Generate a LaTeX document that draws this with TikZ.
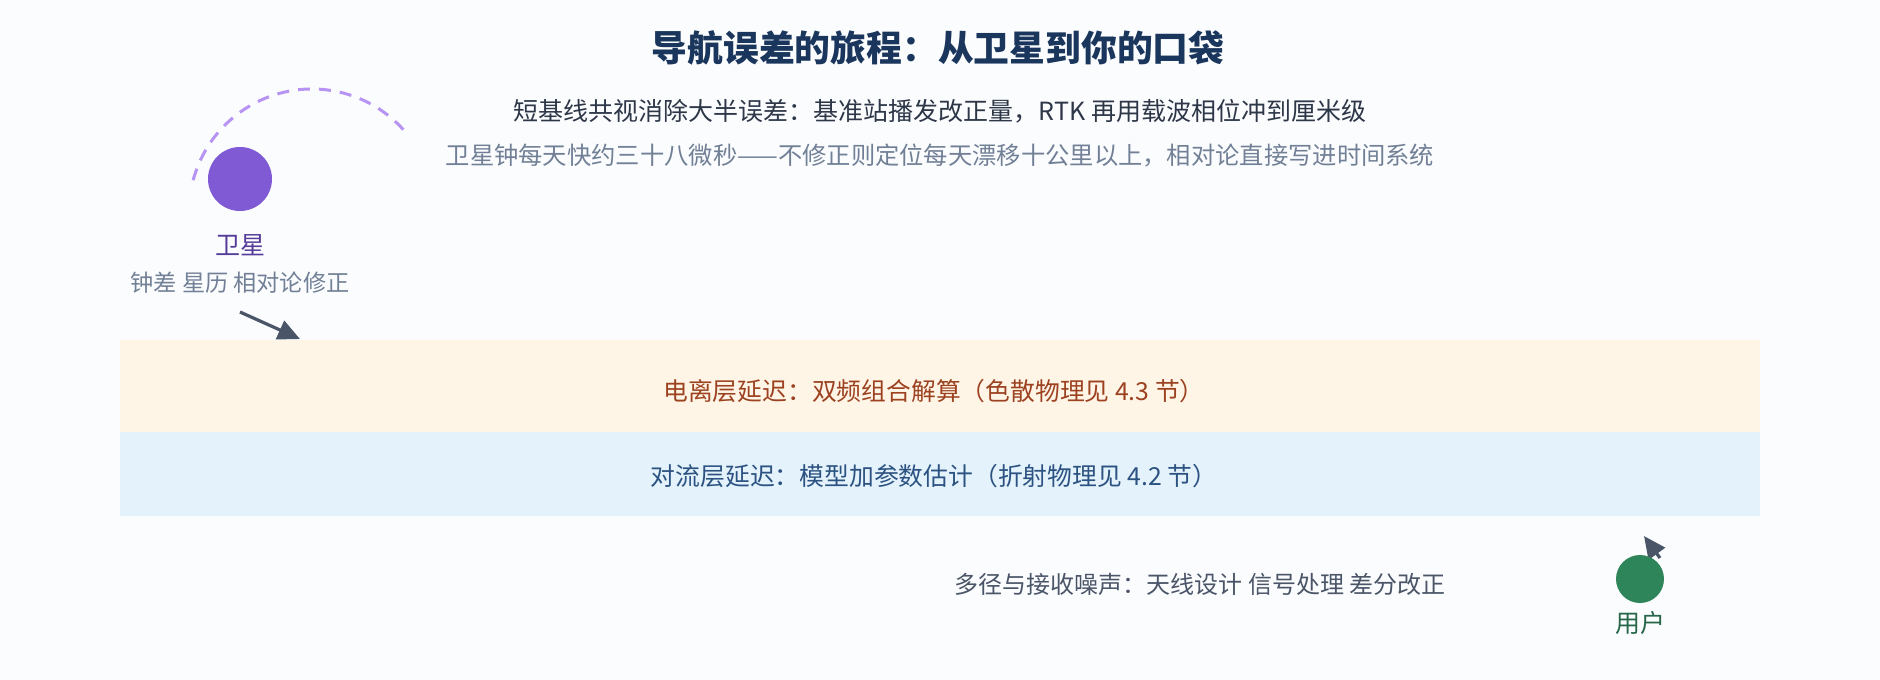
\documentclass[tikz,border=0pt]{standalone}
\usepackage{fontspec}
\setmainfont{Noto Sans CJK SC}
\usetikzlibrary{arrows.meta}
\newcommand{\px}{0.5pt}
\definecolor{bgcol}{HTML}{FBFCFE}
\definecolor{titlecol}{HTML}{1A365D}
\definecolor{darkcol}{HTML}{2D3748}
\definecolor{graycol}{HTML}{718096}
\definecolor{slatecol}{HTML}{4A5568}
\definecolor{satcol}{HTML}{805AD5}
\definecolor{satlabel}{HTML}{553C9A}
\definecolor{orbitcol}{HTML}{B794F4}
\definecolor{ionofill}{HTML}{FFF5E6}
\definecolor{ionotext}{HTML}{9C4221}
\definecolor{tropofill}{HTML}{E3F2FB}
\definecolor{tropotext}{HTML}{2C5282}
\definecolor{usercol}{HTML}{2F855A}
\definecolor{userlabel}{HTML}{276749}

\begin{document}
\begin{tikzpicture}[x=\px, y=-\px,
    txt/.style={inner sep=0pt, font=\fontsize{12}{14}\selectfont},
    band/.style={anchor=north west, inner sep=0pt, draw=none, minimum width=1640*\px},
    dot/.style={circle, inner sep=0pt, draw=none},
    arr/.style={draw=slatecol, line width=1.6pt, -{Triangle[length=11pt,width=10pt]}}]
    % canvas
    \fill[bgcol] (0,0) rectangle (1880,680);
    \useasboundingbox (0,0) rectangle (1880,680);

    % heading
    \node[txt, text=titlecol, font=\fontsize{17.9}{20}\selectfont\bfseries] (title) at (938,48) {导航误差的旅程：从卫星到你的口袋};
    \node[txt, text=darkcol, font=\fontsize{12.5}{15}\selectfont] (note-1) at (940,111) {短基线共视消除大半误差：基准站播发改正量，RTK 再用载波相位冲到厘米级};
    \node[txt, text=graycol, font=\fontsize{12.15}{15}\selectfont] (note-2) at (940,156) {卫星钟每天快约三十八微秒——不修正则定位每天漂移十公里以上，相对论直接写进时间系统};

    % layers
    \node[band, fill=ionofill, minimum height=92*\px] (iono) at (120,340) {};
    \node[band, fill=tropofill, minimum height=84*\px] (tropo) at (120,432) {};
    \node[txt, text=ionotext, font=\fontsize{12.4}{14}\selectfont] (iono-text) at (934,391) {电离层延迟：双频组合解算（色散物理见 4.3 节）};
    \node[txt, text=tropotext, font=\fontsize{12.4}{14}\selectfont] (tropo-text) at (934,476) {对流层延迟：模型加参数估计（折射物理见 4.2 节）};

    % satellite
    \draw[orbitcol, line width=1.5pt, dash pattern=on 6pt off 4.5pt] (312,212) ++(-165:123) arc[start angle=-165, end angle=-42, radius=123];
    \node[dot, fill=satcol, minimum size=64*\px] (sat) at (240,179) {};
    \node[txt, text=satlabel, font=\fontsize{12.5}{15}\selectfont] (sat-label) at (240,245) {卫星};
    \node[txt, text=graycol, font=\fontsize{11.6}{14}\selectfont] (sat-errors) at (240,283) {钟差 星历 相对论修正};
    \coordinate (sat-out) at (240,312);
    \coordinate (iono-in) at (300,339);
    \draw[arr] (sat-out) -- (iono-in);

    % receiver
    \coordinate (user-in) at (1660,558);
    \coordinate (user-tip) at (1644,536);
    \draw[arr] (user-in) -- (user-tip);
    \node[dot, fill=usercol, minimum size=48*\px] (user) at (1640,579) {};
    \node[txt, text=userlabel, font=\fontsize{12.5}{15}\selectfont] (user-label) at (1640,623) {用户};
    \node[txt, text=slatecol] (multipath) at (1200,584) {多径与接收噪声：天线设计 信号处理 差分改正};
\end{tikzpicture}
\end{document}
